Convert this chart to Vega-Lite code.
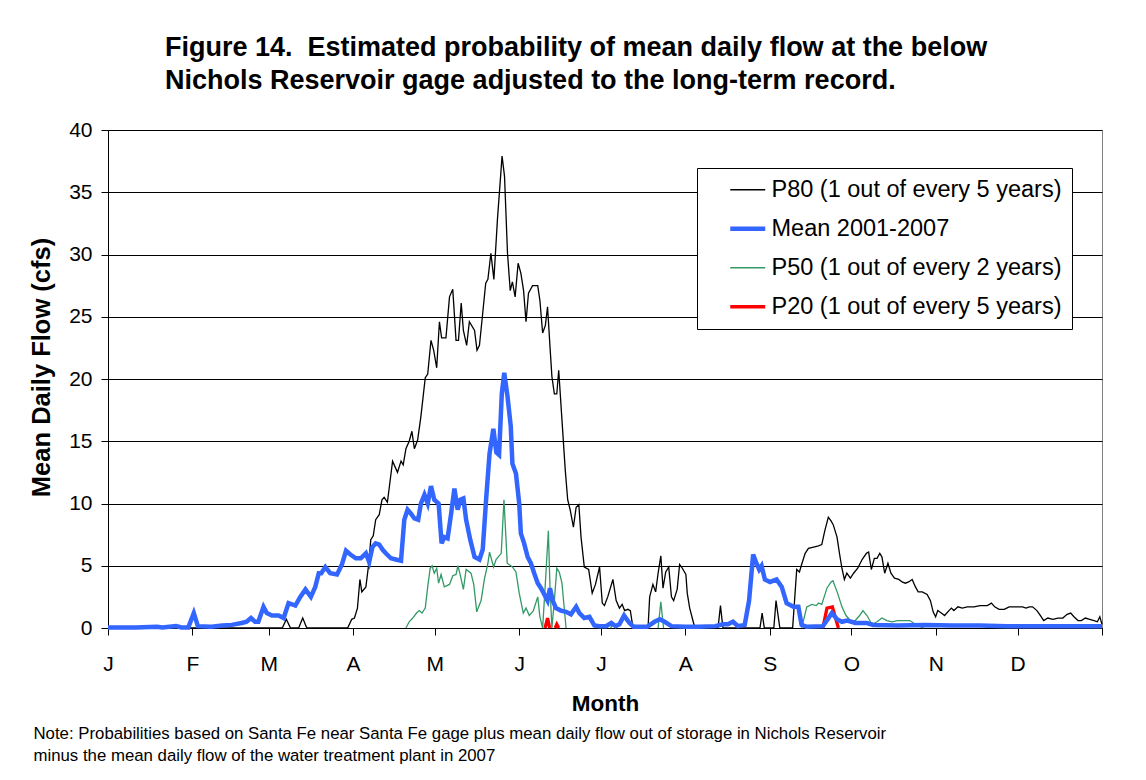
{
  "$schema": "https://vega.github.io/schema/vega-lite/v6.json",
  "width": 994,
  "height": 498,
  "autosize": {"type": "none"},
  "padding": {"left": 108, "top": 130, "right": 44, "bottom": 152},
  "background": "white",
  "config": {
    "font": "Liberation Sans",
    "view": {"stroke": "#808080", "strokeWidth": 1}
  },
  "title": {
    "text": ["Figure 14.\u00a0 Estimated probability of mean daily flow at the below", "Nichols Reservoir gage adjusted to the long-term record."],
    "anchor": "start",
    "frame": "group",
    "dx": 57,
    "fontSize": 27,
    "fontWeight": "bold",
    "color": "#000000",
    "lineHeight": 33,
    "offset": 24
  },
  "data": {"values": [
    {"series": "P80 (1 out of every 5 years)", "day": 0, "flow": 0},
    {"series": "P80 (1 out of every 5 years)", "day": 64, "flow": 0},
    {"series": "P80 (1 out of every 5 years)", "day": 65.5, "flow": 0.7},
    {"series": "P80 (1 out of every 5 years)", "day": 67, "flow": 0},
    {"series": "P80 (1 out of every 5 years)", "day": 70, "flow": 0},
    {"series": "P80 (1 out of every 5 years)", "day": 71.5, "flow": 0.8},
    {"series": "P80 (1 out of every 5 years)", "day": 73, "flow": 0},
    {"series": "P80 (1 out of every 5 years)", "day": 88, "flow": 0},
    {"series": "P80 (1 out of every 5 years)", "day": 89.5, "flow": 0.7},
    {"series": "P80 (1 out of every 5 years)", "day": 90.5, "flow": 0.8},
    {"series": "P80 (1 out of every 5 years)", "day": 91.6, "flow": 1.6},
    {"series": "P80 (1 out of every 5 years)", "day": 92.5, "flow": 3.9},
    {"series": "P80 (1 out of every 5 years)", "day": 93.2, "flow": 2.9},
    {"series": "P80 (1 out of every 5 years)", "day": 94.7, "flow": 3.3},
    {"series": "P80 (1 out of every 5 years)", "day": 95.6, "flow": 4.9},
    {"series": "P80 (1 out of every 5 years)", "day": 96.5, "flow": 7.1},
    {"series": "P80 (1 out of every 5 years)", "day": 97.4, "flow": 7.4},
    {"series": "P80 (1 out of every 5 years)", "day": 98.3, "flow": 8.7},
    {"series": "P80 (1 out of every 5 years)", "day": 99.6, "flow": 9.1},
    {"series": "P80 (1 out of every 5 years)", "day": 100.6, "flow": 10.3},
    {"series": "P80 (1 out of every 5 years)", "day": 101.4, "flow": 10.5},
    {"series": "P80 (1 out of every 5 years)", "day": 102.6, "flow": 10.1},
    {"series": "P80 (1 out of every 5 years)", "day": 104.5, "flow": 13.4},
    {"series": "P80 (1 out of every 5 years)", "day": 106.3, "flow": 12.5},
    {"series": "P80 (1 out of every 5 years)", "day": 107.6, "flow": 13.4},
    {"series": "P80 (1 out of every 5 years)", "day": 108.4, "flow": 13.1},
    {"series": "P80 (1 out of every 5 years)", "day": 109.4, "flow": 14.4},
    {"series": "P80 (1 out of every 5 years)", "day": 110.6, "flow": 15.0},
    {"series": "P80 (1 out of every 5 years)", "day": 111.6, "flow": 15.8},
    {"series": "P80 (1 out of every 5 years)", "day": 112.5, "flow": 14.4},
    {"series": "P80 (1 out of every 5 years)", "day": 113.7, "flow": 15.1},
    {"series": "P80 (1 out of every 5 years)", "day": 114.9, "flow": 17.0},
    {"series": "P80 (1 out of every 5 years)", "day": 116.5, "flow": 20.1},
    {"series": "P80 (1 out of every 5 years)", "day": 117.4, "flow": 20.4},
    {"series": "P80 (1 out of every 5 years)", "day": 118.6, "flow": 23.1},
    {"series": "P80 (1 out of every 5 years)", "day": 119.6, "flow": 22.3},
    {"series": "P80 (1 out of every 5 years)", "day": 120.7, "flow": 20.9},
    {"series": "P80 (1 out of every 5 years)", "day": 121.7, "flow": 24.6},
    {"series": "P80 (1 out of every 5 years)", "day": 122.5, "flow": 23.3},
    {"series": "P80 (1 out of every 5 years)", "day": 124.1, "flow": 23.3},
    {"series": "P80 (1 out of every 5 years)", "day": 125.4, "flow": 26.6},
    {"series": "P80 (1 out of every 5 years)", "day": 126.6, "flow": 27.2},
    {"series": "P80 (1 out of every 5 years)", "day": 127.8, "flow": 23.1},
    {"series": "P80 (1 out of every 5 years)", "day": 128.7, "flow": 23.1},
    {"series": "P80 (1 out of every 5 years)", "day": 129.7, "flow": 26.1},
    {"series": "P80 (1 out of every 5 years)", "day": 130.5, "flow": 23.9},
    {"series": "P80 (1 out of every 5 years)", "day": 131.7, "flow": 22.7},
    {"series": "P80 (1 out of every 5 years)", "day": 132.7, "flow": 24.6},
    {"series": "P80 (1 out of every 5 years)", "day": 134.6, "flow": 23.9},
    {"series": "P80 (1 out of every 5 years)", "day": 135.5, "flow": 22.3},
    {"series": "P80 (1 out of every 5 years)", "day": 136.4, "flow": 22.7},
    {"series": "P80 (1 out of every 5 years)", "day": 137.6, "flow": 25.3},
    {"series": "P80 (1 out of every 5 years)", "day": 138.7, "flow": 27.7},
    {"series": "P80 (1 out of every 5 years)", "day": 139.5, "flow": 28.0},
    {"series": "P80 (1 out of every 5 years)", "day": 140.6, "flow": 30.1},
    {"series": "P80 (1 out of every 5 years)", "day": 141.7, "flow": 28.0},
    {"series": "P80 (1 out of every 5 years)", "day": 143, "flow": 32.8},
    {"series": "P80 (1 out of every 5 years)", "day": 144.7, "flow": 37.9},
    {"series": "P80 (1 out of every 5 years)", "day": 145.6, "flow": 36.3},
    {"series": "P80 (1 out of every 5 years)", "day": 146.7, "flow": 30.1},
    {"series": "P80 (1 out of every 5 years)", "day": 147.7, "flow": 27.1},
    {"series": "P80 (1 out of every 5 years)", "day": 148.5, "flow": 27.8},
    {"series": "P80 (1 out of every 5 years)", "day": 149.5, "flow": 26.6},
    {"series": "P80 (1 out of every 5 years)", "day": 150.6, "flow": 29.3},
    {"series": "P80 (1 out of every 5 years)", "day": 151.6, "flow": 28.5},
    {"series": "P80 (1 out of every 5 years)", "day": 152.6, "flow": 27.1},
    {"series": "P80 (1 out of every 5 years)", "day": 153.5, "flow": 24.6},
    {"series": "P80 (1 out of every 5 years)", "day": 154.4, "flow": 26.9},
    {"series": "P80 (1 out of every 5 years)", "day": 155.9, "flow": 27.5},
    {"series": "P80 (1 out of every 5 years)", "day": 157.8, "flow": 27.5},
    {"series": "P80 (1 out of every 5 years)", "day": 158.6, "flow": 26.3},
    {"series": "P80 (1 out of every 5 years)", "day": 159.6, "flow": 23.7},
    {"series": "P80 (1 out of every 5 years)", "day": 160.6, "flow": 24.3},
    {"series": "P80 (1 out of every 5 years)", "day": 161.4, "flow": 25.8},
    {"series": "P80 (1 out of every 5 years)", "day": 162.3, "flow": 22.6},
    {"series": "P80 (1 out of every 5 years)", "day": 163, "flow": 20.2},
    {"series": "P80 (1 out of every 5 years)", "day": 163.9, "flow": 18.8},
    {"series": "P80 (1 out of every 5 years)", "day": 164.8, "flow": 18.8},
    {"series": "P80 (1 out of every 5 years)", "day": 165.5, "flow": 20.7},
    {"series": "P80 (1 out of every 5 years)", "day": 166.7, "flow": 16.7},
    {"series": "P80 (1 out of every 5 years)", "day": 167.9, "flow": 12.7},
    {"series": "P80 (1 out of every 5 years)", "day": 168.8, "flow": 10.3},
    {"series": "P80 (1 out of every 5 years)", "day": 169.7, "flow": 9.5},
    {"series": "P80 (1 out of every 5 years)", "day": 170.9, "flow": 8.1},
    {"series": "P80 (1 out of every 5 years)", "day": 171.9, "flow": 9.7},
    {"series": "P80 (1 out of every 5 years)", "day": 172.9, "flow": 9.9},
    {"series": "P80 (1 out of every 5 years)", "day": 173.7, "flow": 7.3},
    {"series": "P80 (1 out of every 5 years)", "day": 174.9, "flow": 4.9},
    {"series": "P80 (1 out of every 5 years)", "day": 176.5, "flow": 4.7},
    {"series": "P80 (1 out of every 5 years)", "day": 177.8, "flow": 2.8},
    {"series": "P80 (1 out of every 5 years)", "day": 179, "flow": 3.5},
    {"series": "P80 (1 out of every 5 years)", "day": 180.5, "flow": 4.9},
    {"series": "P80 (1 out of every 5 years)", "day": 181.5, "flow": 2.0},
    {"series": "P80 (1 out of every 5 years)", "day": 182.3, "flow": 1.8},
    {"series": "P80 (1 out of every 5 years)", "day": 183.5, "flow": 2.5},
    {"series": "P80 (1 out of every 5 years)", "day": 185.4, "flow": 3.9},
    {"series": "P80 (1 out of every 5 years)", "day": 186.6, "flow": 2.2},
    {"series": "P80 (1 out of every 5 years)", "day": 187.8, "flow": 1.6},
    {"series": "P80 (1 out of every 5 years)", "day": 188.8, "flow": 1.9},
    {"series": "P80 (1 out of every 5 years)", "day": 189.7, "flow": 1.4},
    {"series": "P80 (1 out of every 5 years)", "day": 190.9, "flow": 1.5},
    {"series": "P80 (1 out of every 5 years)", "day": 191.8, "flow": 1.4},
    {"series": "P80 (1 out of every 5 years)", "day": 192.8, "flow": 0},
    {"series": "P80 (1 out of every 5 years)", "day": 198.3, "flow": 0},
    {"series": "P80 (1 out of every 5 years)", "day": 198.9, "flow": 2.5},
    {"series": "P80 (1 out of every 5 years)", "day": 200.1, "flow": 3.5},
    {"series": "P80 (1 out of every 5 years)", "day": 201.1, "flow": 2.9},
    {"series": "P80 (1 out of every 5 years)", "day": 202, "flow": 4.4},
    {"series": "P80 (1 out of every 5 years)", "day": 203, "flow": 5.8},
    {"series": "P80 (1 out of every 5 years)", "day": 203.8, "flow": 3.2},
    {"series": "P80 (1 out of every 5 years)", "day": 204.8, "flow": 4.5},
    {"series": "P80 (1 out of every 5 years)", "day": 205.9, "flow": 4.9},
    {"series": "P80 (1 out of every 5 years)", "day": 206.9, "flow": 2.5},
    {"series": "P80 (1 out of every 5 years)", "day": 207.7, "flow": 2.2},
    {"series": "P80 (1 out of every 5 years)", "day": 209, "flow": 3.1},
    {"series": "P80 (1 out of every 5 years)", "day": 209.9, "flow": 5.1},
    {"series": "P80 (1 out of every 5 years)", "day": 210.9, "flow": 4.8},
    {"series": "P80 (1 out of every 5 years)", "day": 212.2, "flow": 4.3},
    {"series": "P80 (1 out of every 5 years)", "day": 212.7, "flow": 2.8},
    {"series": "P80 (1 out of every 5 years)", "day": 213.6, "flow": 1.6},
    {"series": "P80 (1 out of every 5 years)", "day": 215.5, "flow": 0},
    {"series": "P80 (1 out of every 5 years)", "day": 224, "flow": 0},
    {"series": "P80 (1 out of every 5 years)", "day": 224.9, "flow": 1.8},
    {"series": "P80 (1 out of every 5 years)", "day": 225.8, "flow": 0},
    {"series": "P80 (1 out of every 5 years)", "day": 239.4, "flow": 0},
    {"series": "P80 (1 out of every 5 years)", "day": 240.2, "flow": 1.2},
    {"series": "P80 (1 out of every 5 years)", "day": 241, "flow": 0},
    {"series": "P80 (1 out of every 5 years)", "day": 244.5, "flow": 0},
    {"series": "P80 (1 out of every 5 years)", "day": 245.3, "flow": 2.2},
    {"series": "P80 (1 out of every 5 years)", "day": 246.7, "flow": 0},
    {"series": "P80 (1 out of every 5 years)", "day": 251.4, "flow": 0},
    {"series": "P80 (1 out of every 5 years)", "day": 252.9, "flow": 4.7},
    {"series": "P80 (1 out of every 5 years)", "day": 253.9, "flow": 4.5},
    {"series": "P80 (1 out of every 5 years)", "day": 254.7, "flow": 5.1},
    {"series": "P80 (1 out of every 5 years)", "day": 256, "flow": 6.0},
    {"series": "P80 (1 out of every 5 years)", "day": 257.2, "flow": 6.4},
    {"series": "P80 (1 out of every 5 years)", "day": 259.1, "flow": 6.5},
    {"series": "P80 (1 out of every 5 years)", "day": 260.9, "flow": 6.6},
    {"series": "P80 (1 out of every 5 years)", "day": 262.1, "flow": 6.7},
    {"series": "P80 (1 out of every 5 years)", "day": 263.2, "flow": 7.8},
    {"series": "P80 (1 out of every 5 years)", "day": 264.5, "flow": 8.9},
    {"series": "P80 (1 out of every 5 years)", "day": 265.5, "flow": 8.6},
    {"series": "P80 (1 out of every 5 years)", "day": 266.3, "flow": 8.3},
    {"series": "P80 (1 out of every 5 years)", "day": 267.7, "flow": 7.3},
    {"series": "P80 (1 out of every 5 years)", "day": 268.6, "flow": 6.0},
    {"series": "P80 (1 out of every 5 years)", "day": 269.5, "flow": 4.8},
    {"series": "P80 (1 out of every 5 years)", "day": 270.4, "flow": 3.9},
    {"series": "P80 (1 out of every 5 years)", "day": 271.3, "flow": 4.4},
    {"series": "P80 (1 out of every 5 years)", "day": 272.6, "flow": 4.0},
    {"series": "P80 (1 out of every 5 years)", "day": 273.8, "flow": 4.4},
    {"series": "P80 (1 out of every 5 years)", "day": 275.3, "flow": 4.8},
    {"series": "P80 (1 out of every 5 years)", "day": 276.9, "flow": 5.5},
    {"series": "P80 (1 out of every 5 years)", "day": 278.5, "flow": 6.0},
    {"series": "P80 (1 out of every 5 years)", "day": 279.3, "flow": 6.1},
    {"series": "P80 (1 out of every 5 years)", "day": 280.3, "flow": 4.7},
    {"series": "P80 (1 out of every 5 years)", "day": 281.4, "flow": 5.6},
    {"series": "P80 (1 out of every 5 years)", "day": 282.4, "flow": 5.6},
    {"series": "P80 (1 out of every 5 years)", "day": 283.4, "flow": 6.0},
    {"series": "P80 (1 out of every 5 years)", "day": 284.2, "flow": 5.7},
    {"series": "P80 (1 out of every 5 years)", "day": 285.2, "flow": 4.4},
    {"series": "P80 (1 out of every 5 years)", "day": 286.4, "flow": 5.2},
    {"series": "P80 (1 out of every 5 years)", "day": 287.5, "flow": 4.4},
    {"series": "P80 (1 out of every 5 years)", "day": 288.8, "flow": 4.0},
    {"series": "P80 (1 out of every 5 years)", "day": 290.4, "flow": 3.9},
    {"series": "P80 (1 out of every 5 years)", "day": 291.6, "flow": 3.7},
    {"series": "P80 (1 out of every 5 years)", "day": 292.8, "flow": 3.6},
    {"series": "P80 (1 out of every 5 years)", "day": 294, "flow": 3.7},
    {"series": "P80 (1 out of every 5 years)", "day": 295.3, "flow": 3.9},
    {"series": "P80 (1 out of every 5 years)", "day": 296.5, "flow": 3.3},
    {"series": "P80 (1 out of every 5 years)", "day": 297.5, "flow": 2.9},
    {"series": "P80 (1 out of every 5 years)", "day": 299, "flow": 2.9},
    {"series": "P80 (1 out of every 5 years)", "day": 300.8, "flow": 2.7},
    {"series": "P80 (1 out of every 5 years)", "day": 302, "flow": 2.2},
    {"series": "P80 (1 out of every 5 years)", "day": 303, "flow": 1.3},
    {"series": "P80 (1 out of every 5 years)", "day": 303.9, "flow": 0.9},
    {"series": "P80 (1 out of every 5 years)", "day": 304.7, "flow": 1.4},
    {"series": "P80 (1 out of every 5 years)", "day": 306, "flow": 1.2},
    {"series": "P80 (1 out of every 5 years)", "day": 307.2, "flow": 1.0},
    {"series": "P80 (1 out of every 5 years)", "day": 308.8, "flow": 1.4},
    {"series": "P80 (1 out of every 5 years)", "day": 309.7, "flow": 1.6},
    {"series": "P80 (1 out of every 5 years)", "day": 310.6, "flow": 1.4},
    {"series": "P80 (1 out of every 5 years)", "day": 312.1, "flow": 1.7},
    {"series": "P80 (1 out of every 5 years)", "day": 313.7, "flow": 1.6},
    {"series": "P80 (1 out of every 5 years)", "day": 315.5, "flow": 1.7},
    {"series": "P80 (1 out of every 5 years)", "day": 318, "flow": 1.7},
    {"series": "P80 (1 out of every 5 years)", "day": 320.2, "flow": 1.8},
    {"series": "P80 (1 out of every 5 years)", "day": 321.6, "flow": 1.8},
    {"series": "P80 (1 out of every 5 years)", "day": 322.9, "flow": 1.8},
    {"series": "P80 (1 out of every 5 years)", "day": 324.4, "flow": 2.0},
    {"series": "P80 (1 out of every 5 years)", "day": 325.6, "flow": 1.7},
    {"series": "P80 (1 out of every 5 years)", "day": 327.2, "flow": 1.5},
    {"series": "P80 (1 out of every 5 years)", "day": 329.1, "flow": 1.5},
    {"series": "P80 (1 out of every 5 years)", "day": 330.9, "flow": 1.7},
    {"series": "P80 (1 out of every 5 years)", "day": 332.7, "flow": 1.7},
    {"series": "P80 (1 out of every 5 years)", "day": 334.6, "flow": 1.7},
    {"series": "P80 (1 out of every 5 years)", "day": 335.8, "flow": 1.7},
    {"series": "P80 (1 out of every 5 years)", "day": 337.1, "flow": 1.6},
    {"series": "P80 (1 out of every 5 years)", "day": 338.3, "flow": 1.7},
    {"series": "P80 (1 out of every 5 years)", "day": 339.5, "flow": 1.7},
    {"series": "P80 (1 out of every 5 years)", "day": 341.1, "flow": 1.4},
    {"series": "P80 (1 out of every 5 years)", "day": 342.4, "flow": 1.0},
    {"series": "P80 (1 out of every 5 years)", "day": 343.6, "flow": 0.6},
    {"series": "P80 (1 out of every 5 years)", "day": 345.1, "flow": 0.8},
    {"series": "P80 (1 out of every 5 years)", "day": 347, "flow": 0.7},
    {"series": "P80 (1 out of every 5 years)", "day": 348.8, "flow": 0.8},
    {"series": "P80 (1 out of every 5 years)", "day": 350.6, "flow": 0.8},
    {"series": "P80 (1 out of every 5 years)", "day": 352.2, "flow": 1.1},
    {"series": "P80 (1 out of every 5 years)", "day": 353.5, "flow": 1.2},
    {"series": "P80 (1 out of every 5 years)", "day": 354.7, "flow": 0.9},
    {"series": "P80 (1 out of every 5 years)", "day": 356.2, "flow": 0.6},
    {"series": "P80 (1 out of every 5 years)", "day": 357.4, "flow": 0.6},
    {"series": "P80 (1 out of every 5 years)", "day": 358.9, "flow": 0.8},
    {"series": "P80 (1 out of every 5 years)", "day": 360.5, "flow": 0.7},
    {"series": "P80 (1 out of every 5 years)", "day": 362.1, "flow": 0.6},
    {"series": "P80 (1 out of every 5 years)", "day": 363.3, "flow": 0.5},
    {"series": "P80 (1 out of every 5 years)", "day": 364.2, "flow": 0.9},
    {"series": "P80 (1 out of every 5 years)", "day": 365, "flow": 0.3},

    {"series": "Mean 2001-2007", "day": 0, "flow": 0.05},
    {"series": "Mean 2001-2007", "day": 10, "flow": 0.05},
    {"series": "Mean 2001-2007", "day": 18, "flow": 0.1},
    {"series": "Mean 2001-2007", "day": 20, "flow": 0.05},
    {"series": "Mean 2001-2007", "day": 25, "flow": 0.15},
    {"series": "Mean 2001-2007", "day": 27, "flow": 0.05},
    {"series": "Mean 2001-2007", "day": 29.5, "flow": 0.05},
    {"series": "Mean 2001-2007", "day": 31.5, "flow": 1.2},
    {"series": "Mean 2001-2007", "day": 33, "flow": 0.15},
    {"series": "Mean 2001-2007", "day": 38, "flow": 0.1},
    {"series": "Mean 2001-2007", "day": 42, "flow": 0.2},
    {"series": "Mean 2001-2007", "day": 45.4, "flow": 0.25},
    {"series": "Mean 2001-2007", "day": 49.1, "flow": 0.4},
    {"series": "Mean 2001-2007", "day": 50.9, "flow": 0.5},
    {"series": "Mean 2001-2007", "day": 52.5, "flow": 0.8},
    {"series": "Mean 2001-2007", "day": 54, "flow": 0.5},
    {"series": "Mean 2001-2007", "day": 55.2, "flow": 0.5},
    {"series": "Mean 2001-2007", "day": 57.1, "flow": 1.7},
    {"series": "Mean 2001-2007", "day": 58.3, "flow": 1.2},
    {"series": "Mean 2001-2007", "day": 60.2, "flow": 1.0},
    {"series": "Mean 2001-2007", "day": 62.6, "flow": 1.0},
    {"series": "Mean 2001-2007", "day": 64.5, "flow": 0.8},
    {"series": "Mean 2001-2007", "day": 66.3, "flow": 2.0},
    {"series": "Mean 2001-2007", "day": 68.8, "flow": 1.8},
    {"series": "Mean 2001-2007", "day": 70.6, "flow": 2.5},
    {"series": "Mean 2001-2007", "day": 72.5, "flow": 3.1},
    {"series": "Mean 2001-2007", "day": 74.5, "flow": 2.5},
    {"series": "Mean 2001-2007", "day": 76.1, "flow": 3.3},
    {"series": "Mean 2001-2007", "day": 77.4, "flow": 4.4},
    {"series": "Mean 2001-2007", "day": 78.3, "flow": 4.4},
    {"series": "Mean 2001-2007", "day": 79.8, "flow": 4.9},
    {"series": "Mean 2001-2007", "day": 81.6, "flow": 4.4},
    {"series": "Mean 2001-2007", "day": 84.1, "flow": 4.3},
    {"series": "Mean 2001-2007", "day": 85.9, "flow": 5.1},
    {"series": "Mean 2001-2007", "day": 87.4, "flow": 6.2},
    {"series": "Mean 2001-2007", "day": 89, "flow": 5.9},
    {"series": "Mean 2001-2007", "day": 91, "flow": 5.6},
    {"series": "Mean 2001-2007", "day": 92.8, "flow": 5.6},
    {"series": "Mean 2001-2007", "day": 94.7, "flow": 6.0},
    {"series": "Mean 2001-2007", "day": 95.9, "flow": 5.3},
    {"series": "Mean 2001-2007", "day": 97.1, "flow": 6.5},
    {"series": "Mean 2001-2007", "day": 98.3, "flow": 6.8},
    {"series": "Mean 2001-2007", "day": 99.6, "flow": 6.7},
    {"series": "Mean 2001-2007", "day": 100.8, "flow": 6.3},
    {"series": "Mean 2001-2007", "day": 102, "flow": 6.0},
    {"series": "Mean 2001-2007", "day": 103.9, "flow": 5.6},
    {"series": "Mean 2001-2007", "day": 105.7, "flow": 5.5},
    {"series": "Mean 2001-2007", "day": 107.6, "flow": 5.4},
    {"series": "Mean 2001-2007", "day": 108.8, "flow": 8.7},
    {"series": "Mean 2001-2007", "day": 110, "flow": 9.5},
    {"series": "Mean 2001-2007", "day": 111.2, "flow": 9.2},
    {"series": "Mean 2001-2007", "day": 112.5, "flow": 8.8},
    {"series": "Mean 2001-2007", "day": 113.9, "flow": 8.7},
    {"series": "Mean 2001-2007", "day": 114.9, "flow": 10.0},
    {"series": "Mean 2001-2007", "day": 116.2, "flow": 10.7},
    {"series": "Mean 2001-2007", "day": 117.4, "flow": 10.0},
    {"series": "Mean 2001-2007", "day": 118.6, "flow": 11.4},
    {"series": "Mean 2001-2007", "day": 119.8, "flow": 10.3},
    {"series": "Mean 2001-2007", "day": 121.4, "flow": 10.0},
    {"series": "Mean 2001-2007", "day": 122.5, "flow": 6.8},
    {"series": "Mean 2001-2007", "day": 123.5, "flow": 7.3},
    {"series": "Mean 2001-2007", "day": 124.7, "flow": 7.2},
    {"series": "Mean 2001-2007", "day": 126, "flow": 9.2},
    {"series": "Mean 2001-2007", "day": 127.2, "flow": 11.2},
    {"series": "Mean 2001-2007", "day": 128.4, "flow": 9.5},
    {"series": "Mean 2001-2007", "day": 129.4, "flow": 10.3},
    {"series": "Mean 2001-2007", "day": 130.5, "flow": 10.4},
    {"series": "Mean 2001-2007", "day": 131.5, "flow": 8.7},
    {"series": "Mean 2001-2007", "day": 133, "flow": 7.1},
    {"series": "Mean 2001-2007", "day": 134.6, "flow": 5.7},
    {"series": "Mean 2001-2007", "day": 136.4, "flow": 5.5},
    {"series": "Mean 2001-2007", "day": 137.6, "flow": 6.3},
    {"series": "Mean 2001-2007", "day": 138.9, "flow": 10.5},
    {"series": "Mean 2001-2007", "day": 140.1, "flow": 14.0},
    {"series": "Mean 2001-2007", "day": 141.5, "flow": 16.0},
    {"series": "Mean 2001-2007", "day": 142.6, "flow": 14.1},
    {"series": "Mean 2001-2007", "day": 143.6, "flow": 13.9},
    {"series": "Mean 2001-2007", "day": 144.6, "flow": 18.8},
    {"series": "Mean 2001-2007", "day": 145.5, "flow": 20.5},
    {"series": "Mean 2001-2007", "day": 146.7, "flow": 18.6},
    {"series": "Mean 2001-2007", "day": 147.9, "flow": 16.2},
    {"series": "Mean 2001-2007", "day": 148.5, "flow": 13.2},
    {"series": "Mean 2001-2007", "day": 149.8, "flow": 12.4},
    {"series": "Mean 2001-2007", "day": 151, "flow": 10.0},
    {"series": "Mean 2001-2007", "day": 151.6, "flow": 7.6},
    {"series": "Mean 2001-2007", "day": 152.8, "flow": 6.8},
    {"series": "Mean 2001-2007", "day": 154.1, "flow": 5.7},
    {"series": "Mean 2001-2007", "day": 155.3, "flow": 5.2},
    {"series": "Mean 2001-2007", "day": 156.5, "flow": 4.4},
    {"series": "Mean 2001-2007", "day": 157.8, "flow": 3.6},
    {"series": "Mean 2001-2007", "day": 159, "flow": 3.2},
    {"series": "Mean 2001-2007", "day": 160.2, "flow": 2.7},
    {"series": "Mean 2001-2007", "day": 161.4, "flow": 2.2},
    {"series": "Mean 2001-2007", "day": 162.3, "flow": 3.2},
    {"series": "Mean 2001-2007", "day": 163.3, "flow": 2.2},
    {"series": "Mean 2001-2007", "day": 164.5, "flow": 1.6},
    {"series": "Mean 2001-2007", "day": 166.3, "flow": 1.4},
    {"series": "Mean 2001-2007", "day": 168.2, "flow": 1.3},
    {"series": "Mean 2001-2007", "day": 170, "flow": 1.1},
    {"series": "Mean 2001-2007", "day": 171.9, "flow": 1.7},
    {"series": "Mean 2001-2007", "day": 173.1, "flow": 1.2},
    {"series": "Mean 2001-2007", "day": 174.9, "flow": 0.8},
    {"series": "Mean 2001-2007", "day": 176.8, "flow": 0.9},
    {"series": "Mean 2001-2007", "day": 178.6, "flow": 0.2},
    {"series": "Mean 2001-2007", "day": 180.5, "flow": 0.15},
    {"series": "Mean 2001-2007", "day": 182.9, "flow": 0.15},
    {"series": "Mean 2001-2007", "day": 184.8, "flow": 0.4},
    {"series": "Mean 2001-2007", "day": 186.4, "flow": 0.15},
    {"series": "Mean 2001-2007", "day": 187.8, "flow": 0.3},
    {"series": "Mean 2001-2007", "day": 189.5, "flow": 1.0},
    {"series": "Mean 2001-2007", "day": 191.5, "flow": 0.4},
    {"series": "Mean 2001-2007", "day": 193, "flow": 0.1},
    {"series": "Mean 2001-2007", "day": 198, "flow": 0.1},
    {"series": "Mean 2001-2007", "day": 200.7, "flow": 0.5},
    {"series": "Mean 2001-2007", "day": 202.6, "flow": 0.7},
    {"series": "Mean 2001-2007", "day": 204.4, "flow": 0.5},
    {"series": "Mean 2001-2007", "day": 206.9, "flow": 0.15},
    {"series": "Mean 2001-2007", "day": 212, "flow": 0.1},
    {"series": "Mean 2001-2007", "day": 217, "flow": 0.1},
    {"series": "Mean 2001-2007", "day": 223, "flow": 0.15},
    {"series": "Mean 2001-2007", "day": 225.8, "flow": 0.3},
    {"series": "Mean 2001-2007", "day": 227.6, "flow": 0.3},
    {"series": "Mean 2001-2007", "day": 229.5, "flow": 0.5},
    {"series": "Mean 2001-2007", "day": 231.3, "flow": 0.15},
    {"series": "Mean 2001-2007", "day": 233.8, "flow": 0.25},
    {"series": "Mean 2001-2007", "day": 235.4, "flow": 2.2},
    {"series": "Mean 2001-2007", "day": 236.9, "flow": 5.9},
    {"series": "Mean 2001-2007", "day": 238.1, "flow": 5.2},
    {"series": "Mean 2001-2007", "day": 239.1, "flow": 4.7},
    {"series": "Mean 2001-2007", "day": 240, "flow": 5.0},
    {"series": "Mean 2001-2007", "day": 241.2, "flow": 3.9},
    {"series": "Mean 2001-2007", "day": 243.1, "flow": 3.7},
    {"series": "Mean 2001-2007", "day": 245.5, "flow": 3.9},
    {"series": "Mean 2001-2007", "day": 247.4, "flow": 3.3},
    {"series": "Mean 2001-2007", "day": 249.2, "flow": 2.0},
    {"series": "Mean 2001-2007", "day": 251.7, "flow": 1.7},
    {"series": "Mean 2001-2007", "day": 253.5, "flow": 1.7},
    {"series": "Mean 2001-2007", "day": 254.7, "flow": 0.25},
    {"series": "Mean 2001-2007", "day": 256.6, "flow": 0.1},
    {"series": "Mean 2001-2007", "day": 262.5, "flow": 0.15},
    {"series": "Mean 2001-2007", "day": 264.6, "flow": 0.8},
    {"series": "Mean 2001-2007", "day": 265.8, "flow": 1.2},
    {"series": "Mean 2001-2007", "day": 267.7, "flow": 0.7},
    {"series": "Mean 2001-2007", "day": 269.5, "flow": 0.5},
    {"series": "Mean 2001-2007", "day": 271.4, "flow": 0.6},
    {"series": "Mean 2001-2007", "day": 274.5, "flow": 0.4},
    {"series": "Mean 2001-2007", "day": 278.7, "flow": 0.4},
    {"series": "Mean 2001-2007", "day": 281, "flow": 0.25},
    {"series": "Mean 2001-2007", "day": 290, "flow": 0.2},
    {"series": "Mean 2001-2007", "day": 300, "flow": 0.25},
    {"series": "Mean 2001-2007", "day": 310, "flow": 0.2},
    {"series": "Mean 2001-2007", "day": 320, "flow": 0.2},
    {"series": "Mean 2001-2007", "day": 330, "flow": 0.15},
    {"series": "Mean 2001-2007", "day": 340, "flow": 0.15},
    {"series": "Mean 2001-2007", "day": 350, "flow": 0.15},
    {"series": "Mean 2001-2007", "day": 365, "flow": 0.15},

    {"series": "P50 (1 out of every 2 years)", "day": 109.4, "flow": 0},
    {"series": "P50 (1 out of every 2 years)", "day": 110.6, "flow": 0.5},
    {"series": "P50 (1 out of every 2 years)", "day": 111.9, "flow": 0.8},
    {"series": "P50 (1 out of every 2 years)", "day": 113.3, "flow": 1.2},
    {"series": "P50 (1 out of every 2 years)", "day": 114.3, "flow": 1.4},
    {"series": "P50 (1 out of every 2 years)", "day": 115.3, "flow": 1.2},
    {"series": "P50 (1 out of every 2 years)", "day": 116.5, "flow": 1.6},
    {"series": "P50 (1 out of every 2 years)", "day": 117.4, "flow": 3.3},
    {"series": "P50 (1 out of every 2 years)", "day": 118.3, "flow": 4.8},
    {"series": "P50 (1 out of every 2 years)", "day": 119, "flow": 5.0},
    {"series": "P50 (1 out of every 2 years)", "day": 119.8, "flow": 4.4},
    {"series": "P50 (1 out of every 2 years)", "day": 120.7, "flow": 4.8},
    {"series": "P50 (1 out of every 2 years)", "day": 121.4, "flow": 3.6},
    {"series": "P50 (1 out of every 2 years)", "day": 122.3, "flow": 4.3},
    {"series": "P50 (1 out of every 2 years)", "day": 123.5, "flow": 3.3},
    {"series": "P50 (1 out of every 2 years)", "day": 125.4, "flow": 3.5},
    {"series": "P50 (1 out of every 2 years)", "day": 126.6, "flow": 4.2},
    {"series": "P50 (1 out of every 2 years)", "day": 127.8, "flow": 4.3},
    {"series": "P50 (1 out of every 2 years)", "day": 128.5, "flow": 5.0},
    {"series": "P50 (1 out of every 2 years)", "day": 129.3, "flow": 4.3},
    {"series": "P50 (1 out of every 2 years)", "day": 130.5, "flow": 3.1},
    {"series": "P50 (1 out of every 2 years)", "day": 131.5, "flow": 4.7},
    {"series": "P50 (1 out of every 2 years)", "day": 133.3, "flow": 4.4},
    {"series": "P50 (1 out of every 2 years)", "day": 134.3, "flow": 3.5},
    {"series": "P50 (1 out of every 2 years)", "day": 135.4, "flow": 1.3},
    {"series": "P50 (1 out of every 2 years)", "day": 137, "flow": 2.2},
    {"series": "P50 (1 out of every 2 years)", "day": 138.2, "flow": 3.9},
    {"series": "P50 (1 out of every 2 years)", "day": 139.5, "flow": 5.2},
    {"series": "P50 (1 out of every 2 years)", "day": 140.1, "flow": 6.1},
    {"series": "P50 (1 out of every 2 years)", "day": 141.6, "flow": 4.9},
    {"series": "P50 (1 out of every 2 years)", "day": 142.5, "flow": 5.5},
    {"series": "P50 (1 out of every 2 years)", "day": 144.4, "flow": 6.0},
    {"series": "P50 (1 out of every 2 years)", "day": 145.4, "flow": 10.3},
    {"series": "P50 (1 out of every 2 years)", "day": 146.6, "flow": 5.2},
    {"series": "P50 (1 out of every 2 years)", "day": 148.5, "flow": 4.9},
    {"series": "P50 (1 out of every 2 years)", "day": 149.8, "flow": 4.5},
    {"series": "P50 (1 out of every 2 years)", "day": 151, "flow": 2.8},
    {"series": "P50 (1 out of every 2 years)", "day": 152.5, "flow": 1.2},
    {"series": "P50 (1 out of every 2 years)", "day": 153.5, "flow": 1.6},
    {"series": "P50 (1 out of every 2 years)", "day": 154.7, "flow": 1.0},
    {"series": "P50 (1 out of every 2 years)", "day": 156.2, "flow": 1.4},
    {"series": "P50 (1 out of every 2 years)", "day": 157.8, "flow": 2.5},
    {"series": "P50 (1 out of every 2 years)", "day": 158.6, "flow": 0.9},
    {"series": "P50 (1 out of every 2 years)", "day": 159.6, "flow": 0},
    {"series": "P50 (1 out of every 2 years)", "day": 160.6, "flow": 3.6},
    {"series": "P50 (1 out of every 2 years)", "day": 161.7, "flow": 7.8},
    {"series": "P50 (1 out of every 2 years)", "day": 162.3, "flow": 3.3},
    {"series": "P50 (1 out of every 2 years)", "day": 163, "flow": 0},
    {"series": "P50 (1 out of every 2 years)", "day": 163.9, "flow": 2.2},
    {"series": "P50 (1 out of every 2 years)", "day": 164.8, "flow": 4.8},
    {"series": "P50 (1 out of every 2 years)", "day": 165.7, "flow": 4.5},
    {"series": "P50 (1 out of every 2 years)", "day": 166.7, "flow": 3.6},
    {"series": "P50 (1 out of every 2 years)", "day": 168.2, "flow": 0},
    {"series": "P50 (1 out of every 2 years)", "day": 176, "flow": null},
    {"series": "P50 (1 out of every 2 years)", "day": 184.5, "flow": 0},
    {"series": "P50 (1 out of every 2 years)", "day": 185.6, "flow": 0.3},
    {"series": "P50 (1 out of every 2 years)", "day": 186.5, "flow": 0},
    {"series": "P50 (1 out of every 2 years)", "day": 195, "flow": null},
    {"series": "P50 (1 out of every 2 years)", "day": 202, "flow": 0},
    {"series": "P50 (1 out of every 2 years)", "day": 203, "flow": 2.1},
    {"series": "P50 (1 out of every 2 years)", "day": 204, "flow": 0},
    {"series": "P50 (1 out of every 2 years)", "day": 230, "flow": null},
    {"series": "P50 (1 out of every 2 years)", "day": 254.7, "flow": 0},
    {"series": "P50 (1 out of every 2 years)", "day": 256.6, "flow": 1.7},
    {"series": "P50 (1 out of every 2 years)", "day": 258.5, "flow": 1.9},
    {"series": "P50 (1 out of every 2 years)", "day": 260.1, "flow": 1.8},
    {"series": "P50 (1 out of every 2 years)", "day": 260.9, "flow": 2.0},
    {"series": "P50 (1 out of every 2 years)", "day": 262.1, "flow": 1.9},
    {"series": "P50 (1 out of every 2 years)", "day": 264, "flow": 3.2},
    {"series": "P50 (1 out of every 2 years)", "day": 265.5, "flow": 3.7},
    {"series": "P50 (1 out of every 2 years)", "day": 266.2, "flow": 3.8},
    {"series": "P50 (1 out of every 2 years)", "day": 267.9, "flow": 2.8},
    {"series": "P50 (1 out of every 2 years)", "day": 269.5, "flow": 1.7},
    {"series": "P50 (1 out of every 2 years)", "day": 271, "flow": 1.0},
    {"series": "P50 (1 out of every 2 years)", "day": 272.6, "flow": 0.6},
    {"series": "P50 (1 out of every 2 years)", "day": 274.4, "flow": 0.6},
    {"series": "P50 (1 out of every 2 years)", "day": 276, "flow": 1.0},
    {"series": "P50 (1 out of every 2 years)", "day": 277.2, "flow": 1.4},
    {"series": "P50 (1 out of every 2 years)", "day": 278.7, "flow": 1.0},
    {"series": "P50 (1 out of every 2 years)", "day": 280.5, "flow": 0.3},
    {"series": "P50 (1 out of every 2 years)", "day": 282.4, "flow": 0.5},
    {"series": "P50 (1 out of every 2 years)", "day": 284.2, "flow": 0.8},
    {"series": "P50 (1 out of every 2 years)", "day": 286, "flow": 0.6},
    {"series": "P50 (1 out of every 2 years)", "day": 287.9, "flow": 0.5},
    {"series": "P50 (1 out of every 2 years)", "day": 290, "flow": 0.6},
    {"series": "P50 (1 out of every 2 years)", "day": 292.2, "flow": 0.6},
    {"series": "P50 (1 out of every 2 years)", "day": 294.4, "flow": 0.6},
    {"series": "P50 (1 out of every 2 years)", "day": 296.5, "flow": 0.3},
    {"series": "P50 (1 out of every 2 years)", "day": 298.3, "flow": 0.1},
    {"series": "P50 (1 out of every 2 years)", "day": 299.6, "flow": 0},

    {"series": "P20 (1 out of every 5 years)", "day": 160.5, "flow": 0},
    {"series": "P20 (1 out of every 5 years)", "day": 161.4, "flow": 0.8},
    {"series": "P20 (1 out of every 5 years)", "day": 162.2, "flow": 0},
    {"series": "P20 (1 out of every 5 years)", "day": 163.2, "flow": null},
    {"series": "P20 (1 out of every 5 years)", "day": 164.2, "flow": 0},
    {"series": "P20 (1 out of every 5 years)", "day": 164.8, "flow": 0.3},
    {"series": "P20 (1 out of every 5 years)", "day": 165.5, "flow": 0},
    {"series": "P20 (1 out of every 5 years)", "day": 200, "flow": null},
    {"series": "P20 (1 out of every 5 years)", "day": 262.5, "flow": 0},
    {"series": "P20 (1 out of every 5 years)", "day": 264, "flow": 1.6},
    {"series": "P20 (1 out of every 5 years)", "day": 266, "flow": 1.7},
    {"series": "P20 (1 out of every 5 years)", "day": 268.2, "flow": 0}
  ]},
  "encoding": {
    "y": {
      "field": "flow",
      "type": "quantitative",
      "scale": {"domain": [0, 40], "nice": false},
      "axis": {
        "values": [0, 5, 10, 15, 20, 25, 30, 35, 40],
        "grid": true,
        "gridColor": "#000000",
        "gridOpacity": 1,
        "gridWidth": 1,
        "domainColor": "#000000",
        "tickColor": "#000000",
        "tickSize": 7,
        "labelFontSize": 21,
        "labelColor": "#000000",
        "labelPadding": 9,
        "title": "Mean Daily Flow (cfs)",
        "titleFontSize": 25.5,
        "titleFontWeight": "bold",
        "titleColor": "#000000",
        "titlePadding": 14,
        "titleY": 237
      }
    },
    "color": {
      "field": "series",
      "type": "nominal",
      "scale": {
        "domain": ["P80 (1 out of every 5 years)", "Mean 2001-2007", "P50 (1 out of every 2 years)", "P20 (1 out of every 5 years)"],
        "range": ["#000000", "#3366FF", "#339966", "#FF0000"]
      },
      "legend": {
        "orient": "none",
        "legendX": 589,
        "legendY": 38,
        "title": null,
        "labelFontSize": 23.5,
        "labelColor": "#000000",
        "labelLimit": 500,
        "labelOffset": 12,
        "symbolType": "M-2,0H2",
        "symbolSize": 306,
        "symbolOffset": 29,
        "padding": 10,
        "rowPadding": 14,
        "strokeColor": "#000000",
        "fillColor": "#ffffff"
      }
    },
    "strokeWidth": {
      "field": "series",
      "type": "nominal",
      "scale": {
        "type": "ordinal",
        "domain": ["P80 (1 out of every 5 years)", "Mean 2001-2007", "P50 (1 out of every 2 years)", "P20 (1 out of every 5 years)"],
        "range": [1.3, 4.5, 1.3, 3.3]
      },
      "legend": {
        "orient": "none",
        "legendX": 589,
        "legendY": 38,
        "title": null,
        "labelFontSize": 23.5,
        "labelColor": "#000000",
        "labelLimit": 500,
        "labelOffset": 12,
        "symbolType": "M-2,0H2",
        "symbolSize": 306,
        "symbolOffset": 29,
        "padding": 10,
        "rowPadding": 14,
        "strokeColor": "#000000",
        "fillColor": "#ffffff"
      }
    }
  },
  "resolve": {"axis": {"x": "independent"}},
  "layer": [
    {
      "transform": [{"filter": "datum.series === 'P80 (1 out of every 5 years)'"}],
      "mark": {"type": "line", "interpolate": "linear", "invalid": "break-paths-show-domains"},
      "encoding": {
        "x": {
          "field": "day",
          "type": "quantitative",
          "scale": {"domain": [0, 365], "nice": false, "zero": false},
          "axis": {
            "values": [0, 31, 59, 90, 120, 151, 181, 212, 243, 273, 304, 334, 365],
            "labelExpr": "['J','F','M','A','M','J','J','A','S','O','N','D',''][indexof([0,31,59,90,120,151,181,212,243,273,304,334,365], datum.value)]",
            "grid": false,
            "domainColor": "#000000",
            "tickColor": "#000000",
            "tickSize": 7,
            "labelFontSize": 21,
            "labelColor": "#000000",
            "labelPadding": 18,
            "labelFlush": false,
            "labelOverlap": false,
            "title": "Month",
            "titleFontSize": 22.5,
            "titleFontWeight": "bold",
            "titleColor": "#000000",
            "titlePadding": 18
          }
        }
      }
    },
    {
      "transform": [{"filter": "datum.series === 'P50 (1 out of every 2 years)'"}],
      "mark": {"type": "line", "interpolate": "linear", "invalid": "break-paths-show-domains"},
      "encoding": {
        "x": {"field": "day", "type": "quantitative", "scale": {"domain": [0, 365], "nice": false, "zero": false}, "axis": null}
      }
    },
    {
      "transform": [{"filter": "datum.series === 'P20 (1 out of every 5 years)'"}],
      "mark": {"type": "line", "interpolate": "linear", "invalid": "break-paths-show-domains"},
      "encoding": {
        "x": {
          "field": "day",
          "type": "quantitative",
          "scale": {"domain": [0, 365], "nice": false, "zero": false},
          "axis": {
            "orient": "bottom",
            "domain": false,
            "ticks": false,
            "labels": false,
            "grid": false,
            "title": ["Note: Probabilities based on Santa Fe near Santa Fe gage plus mean daily flow out of storage in Nichols Reservoir", "minus the mean daily flow of the water treatment plant in 2007"],
            "titleFontSize": 16.8,
            "titleFontWeight": "normal",
            "titleColor": "#000000",
            "titleAnchor": "start",
            "titleAlign": "left",
            "titleBaseline": "top",
            "titleLineHeight": 22,
            "titleX": -75,
            "titleY": 97
          }
        }
      }
    },
    {
      "transform": [{"filter": "datum.series === 'Mean 2001-2007'"}],
      "mark": {"type": "line", "interpolate": "linear", "invalid": "break-paths-show-domains"},
      "encoding": {
        "x": {"field": "day", "type": "quantitative", "scale": {"domain": [0, 365], "nice": false, "zero": false}, "axis": null}
      }
    }
  ]
}
